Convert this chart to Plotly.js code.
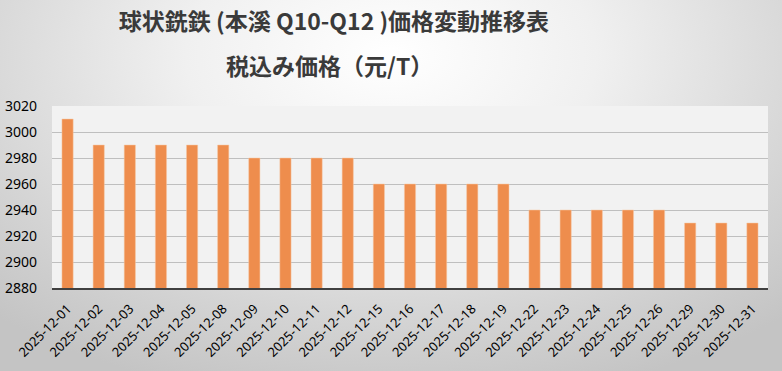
<!DOCTYPE html>
<html>
<head>
<meta charset="utf-8">
<script src="https://cdn.plot.ly/plotly-3.0.1.min.js"></script>
<style>
html,body{margin:0;padding:0;}
#chart{width:782px;height:371px;background:radial-gradient(ellipse 75% 95% at 50% 15%, #ffffff 0%, #f0f0f0 35%, #d4d4d4 75%, #c4c4c4 100%);}
</style>
</head>
<body>
<div id="chart"></div>
<script>
const categories = ["2025-12-01","2025-12-02","2025-12-03","2025-12-04","2025-12-05","2025-12-08","2025-12-09","2025-12-10","2025-12-11","2025-12-12","2025-12-15","2025-12-16","2025-12-17","2025-12-18","2025-12-19","2025-12-22","2025-12-23","2025-12-24","2025-12-25","2025-12-26","2025-12-29","2025-12-30","2025-12-31"];
const prices = [3010,2990,2990,2990,2990,2990,2980,2980,2980,2980,2960,2960,2960,2960,2960,2940,2940,2940,2940,2940,2930,2930,2930];
const titleLine1 = "球状銑鉄 (本溪 Q10-Q12 )価格変動推移表";
const titleLine2 = "税込み価格（元/T）";
const yTicks = [2880,2900,2920,2940,2960,2980,3000,3020];

const trace = {
  type: "bar",
  x: categories,
  y: prices,
  marker: {color: "#EE8D4D", line: {color: "#F6C9A6", width: 0.5}},
  hoverinfo: "x+y"
};

const layout = {
  width: 782, height: 371,
  margin: {l: 52, r: 14, t: 106, b: 83},
  paper_bgcolor: "rgba(0,0,0,0)",
  plot_bgcolor: "#f2f2f2",
  bargap: 0.64,
  showlegend: false,
  font: {family: "'Noto Sans', 'Noto Sans CJK JP', sans-serif", color: "#000"},
  title: {
    text: "<b>" + titleLine1 + "</b>",
    x: 334/782, xanchor: "center",
    y: 1 - 22/371, yanchor: "middle",
    font: {family: "'Noto Sans CJK JP', sans-serif", size: 23, color: "#3a3a3a"}
  },
  annotations: [{
    text: "<b>" + titleLine2 + "</b>",
    xref: "paper", yref: "paper",
    x: (329-52)/716, xanchor: "center",
    y: 1 + (106-65)/182, yanchor: "middle",
    showarrow: false,
    font: {family: "'Noto Sans CJK JP', sans-serif", size: 23, color: "#3a3a3a"}
  }],
  xaxis: {
    type: "category",
    tickangle: -45,
    tickfont: {size: 13, color: "#000"},
    showline: true, linecolor: "#404040", linewidth: 2,
    ticks: "", showgrid: false, fixedrange: true,
    ticklabelstandoff: 6
  },
  yaxis: {
    range: [2880, 3020],
    tickvals: yTicks,
    ticktext: yTicks.map(String),
    tickfont: {size: 14, color: "#000"},
    gridcolor: "#bfbfbf", gridwidth: 1,
    zeroline: false, showline: false, ticks: "",
    ticklabelstandoff: 14, fixedrange: true
  }
};

Plotly.newPlot("chart", [trace], layout, {displayModeBar: false, staticPlot: true});
</script>
</body>
</html>
